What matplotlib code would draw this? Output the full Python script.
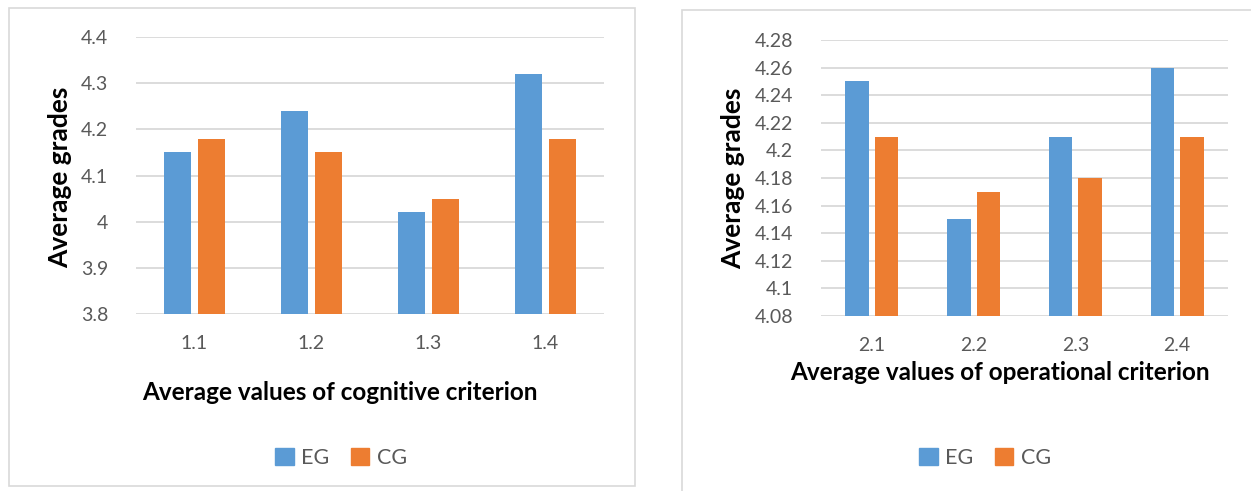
import matplotlib
matplotlib.use("Agg")
import matplotlib.pyplot as plt
from matplotlib.patches import Rectangle, Patch
import numpy as np

plt.rcParams['font.family'] = ['Lato', 'DejaVu Sans']

left_categories = ["1.1", "1.2", "1.3", "1.4"]
left_eg = [4.15, 4.24, 4.02, 4.32]
left_cg = [4.18, 4.15, 4.05, 4.18]
left_yticks = [3.8, 3.9, 4.0, 4.1, 4.2, 4.3, 4.4]
left_yticklabels = ["3.8", "3.9", "4", "4.1", "4.2", "4.3", "4.4"]
left_xlabel = "Average values of cognitive criterion"

right_categories = ["2.1", "2.2", "2.3", "2.4"]
right_eg = [4.25, 4.15, 4.21, 4.26]
right_cg = [4.21, 4.17, 4.18, 4.21]
right_yticks = [4.08, 4.10, 4.12, 4.14, 4.16, 4.18, 4.20, 4.22, 4.24, 4.26, 4.28]
right_yticklabels = ["4.08", "4.1", "4.12", "4.14", "4.16", "4.18", "4.2", "4.22", "4.24", "4.26", "4.28"]
right_xlabel = "Average values of operational criterion"

ylabel = "Average grades"
series_names = ["EG", "CG"]

BLUE = "#5B9BD5"
ORANGE = "#ED7D31"
TXT = "#595959"
GRID = "#D9D9D9"

W, H = 1251, 491
fig = plt.figure(figsize=(W / 100, H / 100), dpi=100)

def fx(x):
    return x / W

def fy(y):
    return 1 - y / H

# panel borders
fig.add_artist(Rectangle((fx(9), fy(486)), fx(626), (486 - 8) / H, fill=False,
                         edgecolor="#D9D9D9", linewidth=1.2, transform=fig.transFigure))
fig.add_artist(Rectangle((fx(682), fy(495)), fx(600), (495 - 10) / H, fill=False,
                         edgecolor="#D9D9D9", linewidth=1.2, transform=fig.transFigure,
                         clip_on=False))

def panel(rect, cats, eg, cg, yticks, yticklabels, xlabel, xlabel_xy, ylabel_xy, legend_cx):
    ax = fig.add_axes(rect)
    x = np.arange(len(cats))
    bw = 0.23
    off = 0.145
    ax.bar(x - off, eg, width=bw, color=BLUE, zorder=3)
    ax.bar(x + off, cg, width=bw, color=ORANGE, zorder=3)
    ax.set_xlim(-0.5, len(cats) - 0.5)
    ax.set_ylim(yticks[0], yticks[-1])
    ax.set_yticks(yticks)
    ax.set_yticklabels(yticklabels)
    ax.set_xticks(x)
    ax.set_xticklabels(cats)
    ax.tick_params(axis="both", length=0, labelsize=14, colors=TXT)
    ax.tick_params(axis="y", pad=20)
    ax.tick_params(axis="x", pad=15)
    ax.grid(axis="y", color=GRID, linewidth=1.3, zorder=0)
    for s in ax.spines.values():
        s.set_visible(False)
    ax.set_xlabel(xlabel, fontsize=17.5, fontweight="bold", color="black")
    ax.xaxis.label.set_va("center")
    ax.xaxis.set_label_coords(fx(xlabel_xy[0]), fy(xlabel_xy[1]), transform=fig.transFigure)
    ax.set_ylabel(ylabel, fontsize=19, fontweight="bold", color="black")
    ax.yaxis.label.set_va("center")
    ax.yaxis.set_label_coords(fx(ylabel_xy[0]), fy(ylabel_xy[1]), transform=fig.transFigure)
    handles = [Patch(color=BLUE, label=series_names[0]), Patch(color=ORANGE, label=series_names[1])]
    fig.legend(handles=handles, loc="center", bbox_to_anchor=(legend_cx, fy(458)), ncol=2,
               frameon=False, fontsize=15.5, handlelength=0.85, handleheight=0.85,
               handletextpad=0.35, columnspacing=1.0, labelcolor=TXT)
    return ax

ax1 = panel([fx(136), fy(314), fx(604 - 136), (314 - 37) / H], left_categories, left_eg, left_cg,
            left_yticks, left_yticklabels, left_xlabel, (340, 393), (60, 177), fx(341))
ax2 = panel([fx(821), fy(316), fx(1228 - 821), (316 - 40) / H], right_categories, right_eg, right_cg,
            right_yticks, right_yticklabels, right_xlabel, (1000, 373), (733, 178), fx(985))

fig.savefig("out.png", dpi=100, facecolor="white")
